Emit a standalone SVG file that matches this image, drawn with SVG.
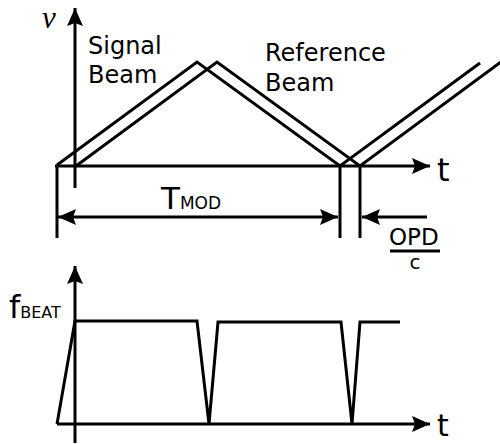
<svg xmlns="http://www.w3.org/2000/svg" width="500" height="444" viewBox="0 0 500 444">
<style>
.ln{fill:none;stroke:#000;stroke-width:3;stroke-linejoin:miter;stroke-linecap:butt}
.tx{font-family:"DejaVu Sans",Verdana,sans-serif;fill:#000}
</style>
<defs>
<marker id="ah" markerUnits="userSpaceOnUse" markerWidth="20" markerHeight="18" refX="18" refY="8" orient="auto" viewBox="0 0 20 16">
<path d="M18,8 L0,0 L3,8 L0,16 Z" fill="#000"/>
</marker>
</defs>
<rect width="500" height="444" fill="#fff"/>
<g id="connectors">
<line class="ln" x1="75" y1="188" x2="75" y2="8" marker-end="url(#ah)"/>
<line class="ln" x1="55" y1="166" x2="430" y2="166" marker-end="url(#ah)"/>
<line class="ln" x1="57" y1="166" x2="57" y2="238"/>
<line class="ln" x1="340" y1="166" x2="340" y2="238"/>
<line class="ln" x1="360" y1="166" x2="360" y2="238"/>
<line class="ln" x1="200" y1="217" x2="58" y2="217" marker-end="url(#ah)"/>
<line class="ln" x1="200" y1="217" x2="338" y2="217" marker-end="url(#ah)"/>
<line class="ln" x1="427" y1="217" x2="362" y2="217" marker-end="url(#ah)"/>
<line class="ln" x1="390" y1="251" x2="440" y2="251"/>
<line class="ln" x1="75" y1="443" x2="75" y2="266" marker-end="url(#ah)"/>
<line class="ln" x1="57" y1="424" x2="430" y2="424" marker-end="url(#ah)"/>
</g>
<g id="signal-beam">
<polyline class="ln" points="57,165 197,62 340,166 480,63"/>
</g>
<g id="reference-beam">
<polyline class="ln" points="76,166 217,62 360,166 501,62"/>
</g>
<g id="beat">
<polyline class="ln" points="57,424 75,321 197,321 209,424 218,322 341,322 352,424 360,322 400,322"/>
</g>
<g id="labels">
<text x="42" y="28" font-family="'Liberation Serif',serif" font-style="italic" font-size="31">ν</text>
<text class="tx" x="88" y="54" font-size="24">Signal</text>
<text class="tx" x="88" y="83" font-size="24">Beam</text>
<text class="tx" x="265" y="61" font-size="24">Reference</text>
<text class="tx" x="265" y="91" font-size="24">Beam</text>
<text class="tx" x="437" y="181" font-size="32">t</text>
<text class="tx" x="437" y="436" font-size="30">t</text>
<text class="tx" x="161" y="209" font-size="31">T<tspan font-size="17">MOD</tspan></text>
<text class="tx" x="389" y="245" font-size="23">OPD</text>
<text class="tx" x="415" y="269" font-size="20" text-anchor="middle">c</text>
<text class="tx" x="9" y="318" font-size="32">f<tspan font-size="16">BEAT</tspan></text>
</g>
</svg>
